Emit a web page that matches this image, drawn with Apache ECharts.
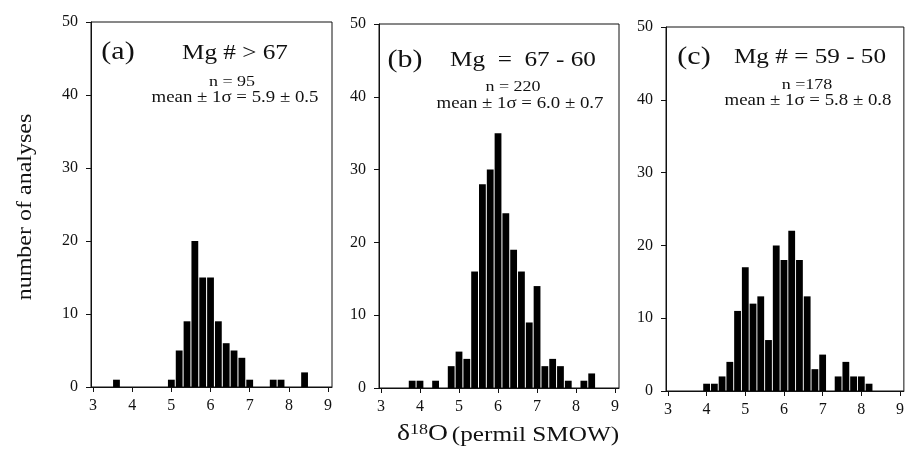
<!DOCTYPE html>
<html>
<head>
<meta charset="utf-8">
<script src="https://cdn.jsdelivr.net/npm/echarts@6/dist/echarts.min.js"></script>
<style>html,body{margin:0;padding:0;background:#fff}#c{width:907px;height:454px}
.pre{font-family:"Liberation Serif";position:absolute;left:-1000px;top:0}</style>
</head>
<body>
<div class="pre">preload δσ± 0123456789</div>
<div id="c"></div>
<script>
// ---- data ----
const binsA = [3.6, 5.0, 5.2, 5.4, 5.6, 5.8, 6.0, 6.2, 6.4, 6.6, 6.8, 7.0, 7.6, 7.8, 8.4];
const countsA = [1, 1, 5, 9, 20, 15, 15, 9, 6, 5, 4, 1, 1, 1, 2];
const binsB = [3.8, 4.0, 4.4, 4.8, 5.0, 5.2, 5.4, 5.6, 5.8, 6.0, 6.2, 6.4, 6.6, 6.8, 7.0, 7.2, 7.4, 7.6, 7.8, 8.2, 8.4];
const countsB = [1, 1, 1, 3, 5, 4, 16, 28, 30, 35, 24, 19, 16, 9, 14, 3, 4, 3, 1, 1, 2];
const binsC = [4.0, 4.2, 4.4, 4.6, 4.8, 5.0, 5.2, 5.4, 5.6, 5.8, 6.0, 6.2, 6.4, 6.6, 6.8, 7.0, 7.4, 7.6, 7.8, 8.0, 8.2];
const countsC = [1, 1, 2, 4, 11, 17, 12, 13, 7, 20, 18, 22, 18, 13, 3, 5, 2, 4, 2, 2, 1];
const xTicks = [3, 4, 5, 6, 7, 8, 9];
const yTicks = [0, 10, 20, 30, 40, 50];
const panelLetters = ['(a)', '(b)', '(c)'];
const panelTitles = ['Mg # > 67', 'Mg  =  67 - 60', 'Mg # = 59 - 50'];
const panelN = ['n = 95', 'n = 220', 'n =178'];
const panelMean = ['mean ± 1σ = 5.9 ± 0.5', 'mean ± 1σ = 6.0 ± 0.7', 'mean ± 1σ = 5.8 ± 0.8'];
const yTitle = 'number of analyses';

// ---- chart ----
const FONT = '"Liberation Serif", "Times New Roman", Times, serif';
const INK = '#111';
const SX = 1.2; // horizontal stretch of the scanned lettering
const grids = [
  {left: 91, top: 22, width: 241, height: 365},
  {left: 379, top: 24, width: 240, height: 364},
  {left: 666, top: 27, width: 240, height: 364}
];
const series = [[binsA, countsA], [binsB, countsB], [binsC, countsC]];

function build() {
  const option = {
    backgroundColor: '#fff',
    animation: false,
    grid: grids.map(g => Object.assign({show: true, borderColor: INK, borderWidth: 1, backgroundColor: 'transparent'}, g)),
    xAxis: grids.map((g, i) => ({
      type: 'value', gridIndex: i, min: 2.95, max: 9.1,
      axisLine: {show: true, onZero: false, lineStyle: {color: INK, width: 1}},
      axisTick: {show: true, length: 5, lineStyle: {color: INK}, customValues: xTicks},
      axisLabel: {show: true, margin: 11, color: INK, fontFamily: FONT, fontSize: 16, customValues: xTicks},
      splitLine: {show: false}
    })),
    yAxis: grids.map((g, i) => ({
      type: 'value', gridIndex: i, min: 0, max: 50, interval: 10,
      axisLine: {show: true, lineStyle: {color: INK, width: 1}},
      axisTick: {show: true, length: 5, lineStyle: {color: INK}},
      axisLabel: {show: true, margin: 13, color: INK, fontFamily: FONT, fontSize: 16, customValues: yTicks},
      splitLine: {show: false}
    })),
    series: series.map((s, i) => ({
      type: 'bar', xAxisIndex: i, yAxisIndex: i,
      barWidth: 6.8,
      itemStyle: {color: '#000'},
      data: s[0].map((x, k) => [x, s[1][k]])
    })),
    graphic: []
  };

  function txt(x, y, text, size, extra) {
    return Object.assign({type: 'text', x: x, y: y, scaleX: SX,
      style: {text: text, font: size + 'px ' + FONT, fill: INK, textAlign: 'center', textVerticalAlign: 'middle'}}, extra || {});
  }

  const letterPos = [[118, 52], [405, 60], [694, 57]];
  const titlePos = [[235, 53], [523, 60], [810, 57]];
  const nPos = [[232, 82], [513, 87], [807, 85]];
  const meanPos = [[235, 98], [520, 104], [808, 101]];
  for (let i = 0; i < 3; i++) {
    option.graphic.push(txt(letterPos[i][0], letterPos[i][1], panelLetters[i], 25));
    option.graphic.push(txt(titlePos[i][0], titlePos[i][1], panelTitles[i], 21));
    option.graphic.push(txt(nPos[i][0], nPos[i][1], panelN[i], 15));
    option.graphic.push(txt(meanPos[i][0], meanPos[i][1], panelMean[i], 15.7));
  }
  option.graphic.push(txt(26, 207, yTitle, 20, {rotation: Math.PI / 2}));
  option.graphic.push({type: 'text', x: 508, y: 434, scaleX: SX,
    style: {
      text: '{a|δ}{s|18}{a|O} {b|(permil SMOW)}',
      textAlign: 'center', textVerticalAlign: 'middle',
      rich: {
        a: {font: '23px ' + FONT, fill: INK, verticalAlign: 'bottom'},
        s: {font: '15px ' + FONT, fill: INK, verticalAlign: 'bottom', padding: [0, 0, 8, 0]},
        b: {font: '21px ' + FONT, fill: INK, verticalAlign: 'bottom'}
      }
    }});

  const chart = echarts.init(document.getElementById('c'), null, {renderer: 'canvas'});
  chart.setOption(option);
}

if (document.fonts && document.fonts.load) {
  document.fonts.load('16px "Liberation Serif"').then(build, build);
} else {
  build();
}
</script>
</body>
</html>
